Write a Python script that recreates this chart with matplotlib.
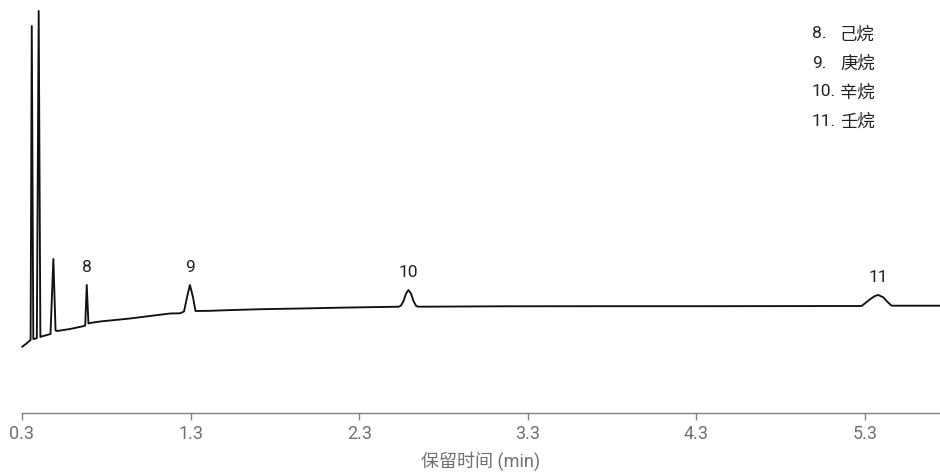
import matplotlib
matplotlib.use("Agg")
import matplotlib.pyplot as plt

plt.rcParams['font.family'] = ['Roboto', 'Noto Sans CJK SC', 'DejaVu Sans']

# Chromatogram trace: retention time (min) and detector signal (arbitrary units)
trace_time = [
    0.302, 0.330, 0.347, 0.351, 0.358, 0.367, 0.373, 0.388, 0.399, 0.409,
    0.416, 0.469, 0.486, 0.499, 0.508, 0.585, 0.668, 0.675, 0.684, 0.694,
    0.703, 0.763, 0.792, 0.941, 1.059, 1.178, 1.237, 1.261, 1.279, 1.296,
    1.314, 1.329, 1.415, 1.534, 1.720, 1.949, 2.245, 2.536, 2.548, 2.563,
    2.578, 2.592, 2.607, 2.622, 2.637, 2.649, 3.135, 3.728, 4.321, 5.280,
    5.300, 5.330, 5.359, 5.379, 5.408, 5.438, 5.458, 5.745,
]
trace_signal = [
    3.3, 7.0, 9.5, 10.0, 324.0, 11.0, 11.0, 12.0, 339.0, 13.0,
    13.5, 16.0, 91.0, 19.5, 19.0, 21.0, 24.0, 24.5, 65.0, 26.5,
    27.0, 28.5, 29.0, 31.5, 34.0, 36.5, 36.7, 38.5, 53.0, 65.0,
    53.0, 39.0, 39.2, 39.9, 40.8, 41.5, 42.5, 43.3, 44.5, 49.0,
    56.5, 60.0, 56.5, 49.0, 44.2, 43.3, 43.7, 43.8, 43.8, 44.0,
    46.7, 50.7, 54.0, 55.0, 52.7, 47.3, 44.3, 44.3,
]

# Labelled peaks
peak_labels = ['8', '9', '10', '11']
peak_times = [0.684, 1.296, 2.592, 5.379]
peak_apex = [65.0, 65.0, 60.0, 55.0]

# Compound key
key_numbers = ['8.', '9.', '10.', '11.']
key_names = ['己烷', '庚烷', '辛烷', '壬烷']

x_ticks = [0.3, 1.3, 2.3, 3.3, 4.3, 5.3]
x_tick_labels = ['0.3', '1.3', '2.3', '3.3', '4.3', '5.3']
x_label = '保留时间 (min)'

W, H = 940, 472
AXIS_Y = 412.5          # pixel row of the time axis
fig = plt.figure(figsize=(W / 100, H / 100), dpi=100)
ax = fig.add_axes([22 / W, (H - AXIS_Y) / H, 1 - 22 / W, AXIS_Y / H])

ax.plot(trace_time, trace_signal, color='#111111', lw=1.35,
        solid_joinstyle='round', clip_on=False)

for lab, t, s in zip(peak_labels, peak_times, peak_apex):
    ax.annotate(lab, (t, s), xytext=(0, 12.5), textcoords='offset points',
                ha='center', va='center', fontsize=12.5, color='#222222')

ax.set_xlim(0.3, 0.3 + 918 / 168.6)
ax.set_ylim(350 - AXIS_Y, 350)

for side in ('left', 'right', 'top'):
    ax.spines[side].set_visible(False)
ax.spines['bottom'].set_color('#808080')
ax.spines['bottom'].set_linewidth(1.0)
ax.set_yticks([])
ax.set_xticks(x_ticks)
ax.set_xticklabels(x_tick_labels)
ax.tick_params(axis='x', direction='out', length=4.8, width=1.0,
               color='#808080', labelcolor='#707070', labelsize=13, pad=4)
ax.set_xlabel(x_label, fontsize=13, color='#707070', labelpad=6)

# Compound key in the upper right
for i, (num, name) in enumerate(zip(key_numbers, key_names)):
    y = 1 - (34 + 29 * i) / H
    fig.text(812 / W, y, num, ha='left', va='center', fontsize=12.5, color='#222222')
    fig.text(840 / W, y, name, ha='left', va='center', fontsize=12.5, color='#222222')

fig.savefig('out.png', dpi=100)
